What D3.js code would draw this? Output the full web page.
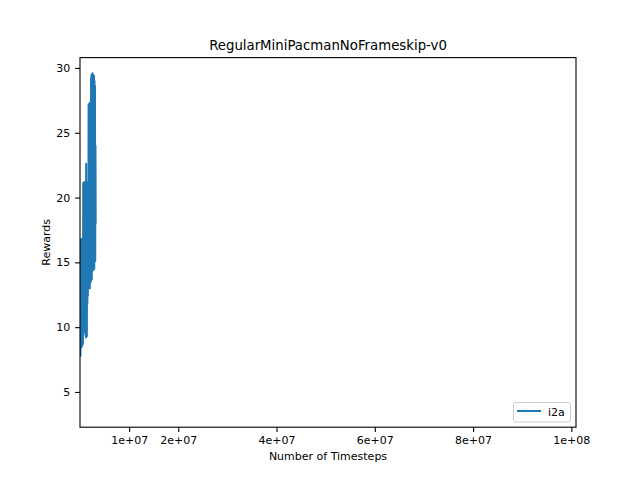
<!DOCTYPE html>
<html>
<head>
<meta charset="utf-8">
<script src="https://cdn.jsdelivr.net/npm/d3@7"></script>
<style>
  body { margin: 0; background: #fff; }
  text { font-family: "DejaVu Sans", sans-serif; fill: #000; }
</style>
</head>
<body>
<svg id="chart" width="640" height="480"></svg>
<script>
// chart data
var title = "RegularMiniPacmanNoFrameskip-v0";
var seriesName = "i2a";

var timesteps = [
  0, 50000, 100000, 150000, 200000, 250000, 300000, 350000, 400000, 450000,
  500000, 550000, 600000, 650000, 700000, 750000, 800000, 850000, 900000, 950000,
  1000000, 1050000, 1100000, 1150000, 1200000, 1250000, 1300000, 1350000, 1400000, 1450000,
  1500000, 1550000, 1600000, 1650000, 1700000, 1750000, 1800000, 1850000, 1900000, 1950000,
  2000000, 2050000, 2100000, 2150000, 2200000, 2250000, 2300000, 2350000, 2400000, 2450000,
  2500000, 2550000, 2600000, 2650000, 2700000, 2750000, 2800000, 2850000, 2900000, 2950000,
  3000000, 3050000, 3100000, 3150000, 3200000
];
var rewards = [
  8.0, 16.7, 7.8, 16.5, 8.4, 16.8, 8.6, 15.9, 8.5, 16.7,
  8.8, 16.2, 8.7, 21.1, 9.4, 20.8, 9.8, 21.2, 10.1, 20.5,
  9.6, 21.0, 10.3, 21.2, 9.2, 22.6, 10.6, 21.1, 9.3, 20.9,
  11.8, 21.2, 12.4, 21.0, 13.1, 27.2, 13.0, 26.8, 13.3, 27.3,
  13.0, 27.1, 13.6, 27.3, 13.5, 29.2, 14.0, 29.5, 13.7, 29.4,
  14.4, 29.6, 14.5, 29.5, 14.4, 29.3, 14.6, 29.4, 14.5, 29.0,
  15.2, 28.6, 15.1, 24.0, 18.0
];

var xTicks = [1e7, 2e7, 4e7, 6e7, 8e7, 1e8];
var xTickLabels = ["1e+07", "2e+07", "4e+07", "6e+07", "8e+07", "1e+08"];
var yTicks = [5, 10, 15, 20, 25, 30];

var svg = d3.select("#chart");
// note: "top" is taken by window.top, so use ax* names
var axL = 80, axR = 576, axT = 57.6, axB = 427.2;
var blue = "#1f77b4";
var fs = 11;

var x = d3.scaleLinear().domain([0, 1.0095e8]).range([axL, axR]);
var y = d3.scaleLinear().domain([2.28, 30.8]).range([axB, axT]);

// data line, clipped to axes
svg.append("clipPath").attr("id", "clip")
  .append("rect").attr("x", axL).attr("y", axT)
  .attr("width", axR - axL).attr("height", axB - axT);

var pts = timesteps.map(function(t, i) { return [t, rewards[i]]; });
var line = d3.line().x(function(d) { return x(d[0]); }).y(function(d) { return y(d[1]); });

svg.append("path")
  .datum(pts)
  .attr("clip-path", "url(#clip)")
  .attr("fill", "none")
  .attr("stroke", blue)
  .attr("stroke-width", 2)
  .attr("stroke-linejoin", "round")
  .attr("d", line);

// axes
var xAxis = d3.axisBottom(x).tickValues(xTicks)
  .tickFormat(function(d, i) { return xTickLabels[i]; })
  .tickSizeInner(4.9).tickSizeOuter(0).tickPadding(4.2);
var yAxis = d3.axisLeft(y).tickValues(yTicks)
  .tickSizeInner(4.9).tickSizeOuter(0).tickPadding(4.9);

var gx = svg.append("g").attr("transform", "translate(0," + axB + ")").call(xAxis);
var gy = svg.append("g").attr("transform", "translate(" + axL + ",0)").call(yAxis);
[gx, gy].forEach(function(g) {
  g.select(".domain").remove();
  g.selectAll(".tick line").attr("stroke", "#000").attr("stroke-width", 1.1);
  g.selectAll(".tick text").attr("font-size", fs).attr("font-family", "DejaVu Sans").attr("fill", "#000");
});

// frame
svg.append("rect")
  .attr("x", axL).attr("y", axT)
  .attr("width", axR - axL).attr("height", axB - axT)
  .attr("fill", "none").attr("stroke", "#000").attr("stroke-width", 1.1);

// labels
svg.append("text").attr("x", (axL + axR) / 2).attr("y", 50)
  .attr("text-anchor", "middle").attr("font-size", 13.3).text(title);
svg.append("text").attr("x", (axL + axR) / 2).attr("y", 460)
  .attr("text-anchor", "middle").attr("font-size", fs).text("Number of Timesteps");
svg.append("text")
  .attr("transform", "translate(49.5," + ((axT + axB) / 2) + ") rotate(-90)")
  .attr("text-anchor", "middle").attr("font-size", fs).text("Rewards");

// legend
var lg = svg.append("g");
lg.append("rect")
  .attr("x", 513.5).attr("y", 402.5).attr("width", 57).attr("height", 19.5)
  .attr("rx", 2).attr("fill", "#fff").attr("fill-opacity", 0.8)
  .attr("stroke", "#cccccc").attr("stroke-width", 1);
lg.append("line")
  .attr("x1", 517).attr("x2", 541).attr("y1", 411).attr("y2", 411)
  .attr("stroke", blue).attr("stroke-width", 2);
lg.append("text").attr("x", 548).attr("y", 415.8)
  .attr("font-size", fs).text(seriesName);
</script>
</body>
</html>
